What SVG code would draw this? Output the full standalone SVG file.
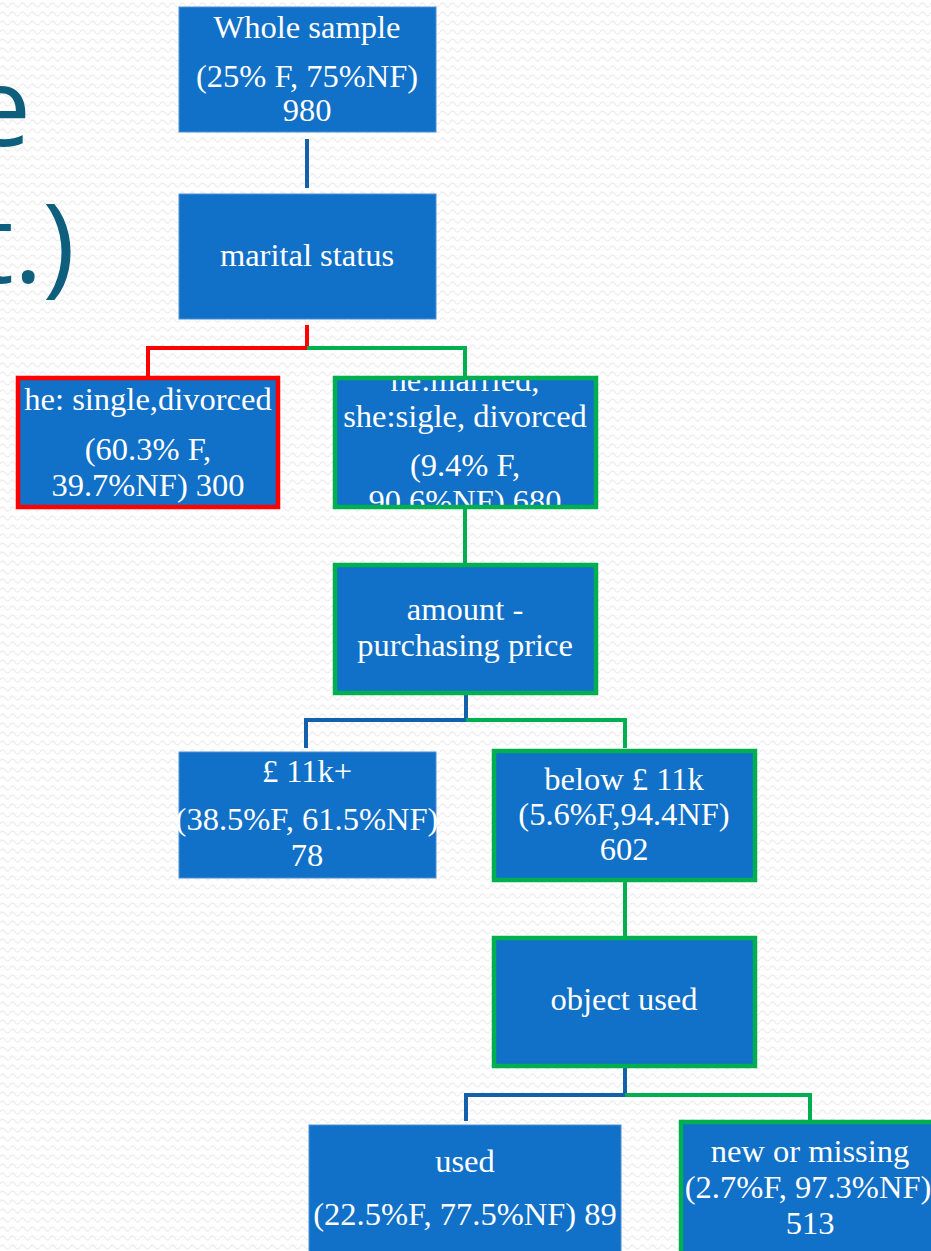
<svg xmlns="http://www.w3.org/2000/svg" width="931" height="1251" viewBox="0 0 931 1251">
<defs>
<pattern id="bg" width="10" height="9" patternUnits="userSpaceOnUse">
<path d="M0 5 Q2.5 1 5 5 T10 5" fill="none" stroke="#eeeeee" stroke-width="1.4"/>
</pattern>
<radialGradient id="sh" cx="0.5" cy="0" r="0.5">
<stop offset="0" stop-color="#222"/>
<stop offset="1" stop-color="#222" stop-opacity="0"/>
</radialGradient>
<clipPath id="c4"><rect x="335" y="378" width="261" height="129"/></clipPath>
</defs>
<style>
.box{fill:#1170C8}
.plain{stroke:#4a8fd6;stroke-width:1}
.red{stroke:#FF0000;stroke-width:4.5}
.grn{stroke:#00B050;stroke-width:4.5}
.t{font-family:"Liberation Serif","Times New Roman",serif;font-size:32.5px;fill:#ffffff;text-anchor:middle}
.title{font-family:"Open Sans","Noto Sans",sans-serif;font-size:110px;fill:#0E5F7E}
.c{fill:none;stroke-width:4}
.cb{stroke:#1560AC}
.cr{stroke:#FF0000}
.cg{stroke:#00B050}
</style>
<rect width="931" height="1251" fill="#ffffff"/>
<rect width="931" height="1251" fill="url(#bg)"/>
<ellipse cx="643" cy="0" rx="45" ry="3" fill="url(#sh)"/>
<text class="title" x="31" y="146" text-anchor="end">e</text>
<text class="title" x="75" y="283" text-anchor="end">t.)</text>

<g id="connectors">
<path class="c cb" d="M307 139 V188" stroke="#10599E"/>
<path class="c cr" d="M307 325 V348 H148 V376"/>
<path class="c cg" d="M307 348 H465 V376"/>
<path class="c cg" d="M465 509 V563"/>
<path class="c cb" d="M466 695 V720 H306 V748"/>
<path class="c cg" d="M466 720 H625 V748"/>
<path class="c cg" d="M625 882 V936"/>
<path class="c cb" d="M625 1068 V1095 H466 V1121"/>
<path class="c cg" d="M625 1095 H810 V1122"/>
</g>

<g id="n1">
<rect class="box plain" x="179" y="7" width="257" height="125"/>
<text class="t" x="307" y="38">Whole sample</text>
<text class="t" x="307" y="87">(25% F, 75%NF)</text>
<text class="t" x="307" y="121">980</text>
</g>
<g id="n2">
<rect class="box plain" x="179" y="194" width="257" height="125"/>
<text class="t" x="307" y="266">marital status</text>
</g>
<g id="n3">
<rect class="box red" x="18" y="378" width="260" height="129"/>
<text class="t" x="148" y="410">he: single,divorced</text>
<text class="t" x="148" y="460">(60.3% F,</text>
<text class="t" x="148" y="496">39.7%NF) 300</text>
</g>
<g id="n4">
<rect class="box" x="335" y="378" width="261" height="129"/>
<g clip-path="url(#c4)">
<text class="t" x="465" y="391">he:married,</text>
<text class="t" x="465" y="427">she:sigle, divorced</text>
<text class="t" x="465" y="476">(9.4% F,</text>
<text class="t" x="465" y="512">90.6%NF) 680</text>
</g>
<rect class="grn" x="335" y="378" width="261" height="129" fill="none"/>
</g>
<g id="n5">
<rect class="box grn" x="335" y="565" width="261" height="128"/>
<text class="t" x="465" y="620">amount -</text>
<text class="t" x="465" y="656">purchasing price</text>
</g>
<g id="n6">
<rect class="box plain" x="179" y="752" width="257" height="126"/>
<text class="t" x="307" y="782">£ 11k+</text>
<text class="t" x="307" y="830">(38.5%F, 61.5%NF)</text>
<text class="t" x="307" y="866">78</text>
</g>
<g id="n7">
<rect class="box grn" x="494" y="751" width="261" height="129"/>
<text class="t" x="624" y="790">below £ 11k</text>
<text class="t" x="624" y="825">(5.6%F,94.4NF)</text>
<text class="t" x="624" y="860">602</text>
</g>
<g id="n8">
<rect class="box grn" x="494" y="938" width="261" height="128"/>
<text class="t" x="624" y="1010">object used</text>
</g>
<g id="n9">
<rect class="box plain" x="309" y="1125" width="312" height="130"/>
<text class="t" x="465" y="1172">used</text>
<text class="t" x="465" y="1225">(22.5%F, 77.5%NF) 89</text>
</g>
<g id="n10">
<rect class="box grn" x="681" y="1122" width="262" height="140"/>
<text class="t" x="810" y="1162">new or missing</text>
<text class="t" x="808" y="1198">(2.7%F, 97.3%NF)</text>
<text class="t" x="810" y="1234">513</text>
</g>
</svg>
